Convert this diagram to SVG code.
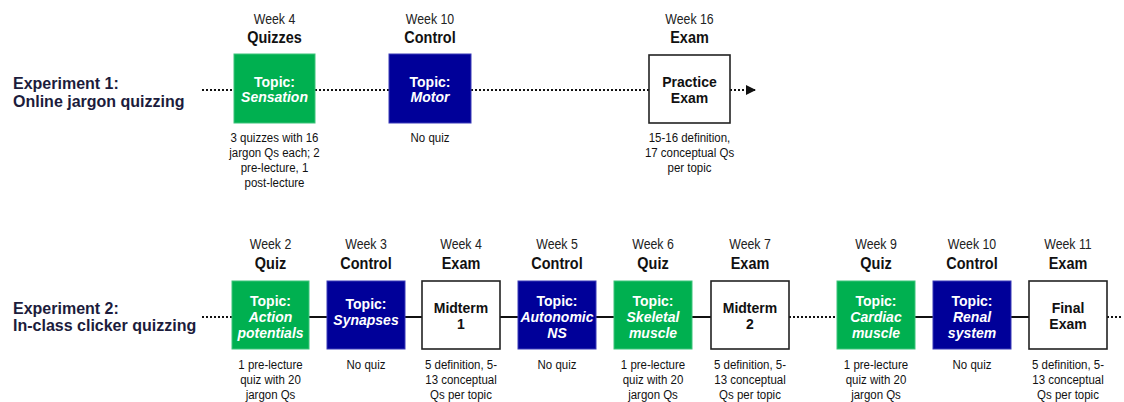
<svg xmlns="http://www.w3.org/2000/svg" width="1124" height="402" viewBox="0 0 1124 402">
<defs>
<style>
text{font-family:"Liberation Sans",Arial,sans-serif;text-anchor:middle;fill:#111}
.exp{font-weight:bold;font-size:16px;text-anchor:start;fill:#1c1c3c}
.wk{font-size:14.5px;fill:#222}
.cat{font-weight:bold;font-size:17px}
.tp{font-weight:bold;font-size:14px;fill:#fff}
.tpi{font-style:italic}
.ex{font-weight:bold;font-size:14px;fill:#111}
.ds{font-size:13.5px;fill:#111}
.g{fill:#00b050;stroke:#3cc47a;stroke-width:1}
.b{fill:#000099;stroke:#3a3ab8;stroke-width:1}
.w{fill:#fff;stroke:#222;stroke-width:1.6}
.dot{stroke:#111;stroke-width:2;stroke-dasharray:2 2;fill:none}
.sol{stroke:#111;stroke-width:2;fill:none}
</style>
<marker id="arr" viewBox="0 0 10 10" refX="9" refY="5" markerWidth="5" markerHeight="5" orient="auto" markerUnits="strokeWidth">
<path d="M0,0 L10,5 L0,10 z" fill="#111"/>
</marker>
</defs>
<rect width="1124" height="402" fill="#fff"/>

<g id="labels">
<text class="exp" x="13" y="89">Experiment 1:</text>
<text class="exp" x="13" y="107">Online jargon quizzing</text>
<text class="exp" x="13" y="314">Experiment 2:</text>
<text class="exp" x="13" y="331">In-class clicker quizzing</text>
</g>

<g id="connectors">
<line class="dot" x1="202" y1="90" x2="234" y2="90"/>
<line class="dot" x1="315" y1="90" x2="389" y2="90"/>
<line class="dot" x1="471" y1="90" x2="649" y2="90"/>
<line class="dot" x1="730" y1="90" x2="755" y2="90" marker-end="url(#arr)"/>
<line class="dot" x1="202" y1="317" x2="232" y2="317"/>
<line class="sol" x1="309" y1="317" x2="711" y2="317"/>
<line class="dot" x1="789" y1="317" x2="837" y2="317"/>
<line class="sol" x1="915" y1="317" x2="1029" y2="317"/>
<line class="dot" x1="1107" y1="317" x2="1121" y2="317"/>
</g>

<g id="n1-quizzes">
<rect class="g" x="234" y="54" width="81" height="69"/>
<text class="tp" x="274.5" y="87">Topic:</text>
<text class="tp tpi" x="274.5" y="102">Sensation</text>
<g transform="translate(274.5 0) scale(0.85 1)">
<text class="wk" y="24">Week 4</text>
<text class="cat" y="43">Quizzes</text>
<text class="ds" y="142">3 quizzes with 16</text>
<text class="ds" y="157">jargon Qs each; 2</text>
<text class="ds" y="172">pre-lecture, 1</text>
<text class="ds" y="187">post-lecture</text>
</g>
</g>

<g id="n1-control">
<rect class="b" x="389" y="54" width="82" height="69"/>
<text class="tp" x="430" y="87">Topic:</text>
<text class="tp tpi" x="430" y="102">Motor</text>
<g transform="translate(430 0) scale(0.85 1)">
<text class="wk" y="24">Week 10</text>
<text class="cat" y="43">Control</text>
<text class="ds" y="142">No quiz</text>
</g>
</g>

<g id="n1-exam">
<rect class="w" x="649" y="55" width="81" height="68"/>
<text class="ex" x="689.5" y="87">Practice</text>
<text class="ex" x="689.5" y="103">Exam</text>
<g transform="translate(689.5 0) scale(0.85 1)">
<text class="wk" y="24">Week 16</text>
<text class="cat" y="43">Exam</text>
<text class="ds" y="142">15-16 definition,</text>
<text class="ds" y="157">17 conceptual Qs</text>
<text class="ds" y="172">per topic</text>
</g>
</g>

<g id="n2-w2">
<rect class="g" x="232" y="281" width="77" height="68"/>
<text class="tp" x="270.5" y="306">Topic:</text>
<text class="tp tpi" x="270.5" y="322">Action</text>
<text class="tp tpi" x="270.5" y="338">potentials</text>
<g transform="translate(270.5 0) scale(0.85 1)">
<text class="wk" y="249">Week 2</text>
<text class="cat" y="269">Quiz</text>
<text class="ds" y="369">1 pre-lecture</text>
<text class="ds" y="384">quiz with 20</text>
<text class="ds" y="399">jargon Qs</text>
</g>
</g>

<g id="n2-w3">
<rect class="b" x="327" y="281" width="78" height="68"/>
<text class="tp" x="366" y="309">Topic:</text>
<text class="tp tpi" x="366" y="325">Synapses</text>
<g transform="translate(366 0) scale(0.85 1)">
<text class="wk" y="249">Week 3</text>
<text class="cat" y="269">Control</text>
<text class="ds" y="369">No quiz</text>
</g>
</g>

<g id="n2-w4">
<rect class="w" x="422" y="281" width="78" height="68"/>
<text class="ex" x="461" y="313">Midterm</text>
<text class="ex" x="461" y="329">1</text>
<g transform="translate(461 0) scale(0.85 1)">
<text class="wk" y="249">Week 4</text>
<text class="cat" y="269">Exam</text>
<text class="ds" y="369">5 definition, 5-</text>
<text class="ds" y="384">13 conceptual</text>
<text class="ds" y="399">Qs per topic</text>
</g>
</g>

<g id="n2-w5">
<rect class="b" x="518" y="281" width="78" height="68"/>
<text class="tp" x="557" y="306">Topic:</text>
<text class="tp tpi" x="557" y="322">Autonomic</text>
<text class="tp tpi" x="557" y="338">NS</text>
<g transform="translate(557 0) scale(0.85 1)">
<text class="wk" y="249">Week 5</text>
<text class="cat" y="269">Control</text>
<text class="ds" y="369">No quiz</text>
</g>
</g>

<g id="n2-w6">
<rect class="g" x="614" y="281" width="78" height="68"/>
<text class="tp" x="653" y="306">Topic:</text>
<text class="tp tpi" x="653" y="322">Skeletal</text>
<text class="tp tpi" x="653" y="338">muscle</text>
<g transform="translate(653 0) scale(0.85 1)">
<text class="wk" y="249">Week 6</text>
<text class="cat" y="269">Quiz</text>
<text class="ds" y="369">1 pre-lecture</text>
<text class="ds" y="384">quiz with 20</text>
<text class="ds" y="399">jargon Qs</text>
</g>
</g>

<g id="n2-w7">
<rect class="w" x="711" y="281" width="78" height="68"/>
<text class="ex" x="750" y="313">Midterm</text>
<text class="ex" x="750" y="329">2</text>
<g transform="translate(750 0) scale(0.85 1)">
<text class="wk" y="249">Week 7</text>
<text class="cat" y="269">Exam</text>
<text class="ds" y="369">5 definition, 5-</text>
<text class="ds" y="384">13 conceptual</text>
<text class="ds" y="399">Qs per topic</text>
</g>
</g>

<g id="n2-w9">
<rect class="g" x="837" y="281" width="78" height="68"/>
<text class="tp" x="876" y="306">Topic:</text>
<text class="tp tpi" x="876" y="322">Cardiac</text>
<text class="tp tpi" x="876" y="338">muscle</text>
<g transform="translate(876 0) scale(0.85 1)">
<text class="wk" y="249">Week 9</text>
<text class="cat" y="269">Quiz</text>
<text class="ds" y="369">1 pre-lecture</text>
<text class="ds" y="384">quiz with 20</text>
<text class="ds" y="399">jargon Qs</text>
</g>
</g>

<g id="n2-w10">
<rect class="b" x="933" y="281" width="78" height="68"/>
<text class="tp" x="972" y="306">Topic:</text>
<text class="tp tpi" x="972" y="322">Renal</text>
<text class="tp tpi" x="972" y="338">system</text>
<g transform="translate(972 0) scale(0.85 1)">
<text class="wk" y="249">Week 10</text>
<text class="cat" y="269">Control</text>
<text class="ds" y="369">No quiz</text>
</g>
</g>

<g id="n2-w11">
<rect class="w" x="1029" y="281" width="78" height="68"/>
<text class="ex" x="1068" y="313">Final</text>
<text class="ex" x="1068" y="329">Exam</text>
<g transform="translate(1068 0) scale(0.85 1)">
<text class="wk" y="249">Week 11</text>
<text class="cat" y="269">Exam</text>
<text class="ds" y="369">5 definition, 5-</text>
<text class="ds" y="384">13 conceptual</text>
<text class="ds" y="399">Qs per topic</text>
</g>
</g>
</svg>
